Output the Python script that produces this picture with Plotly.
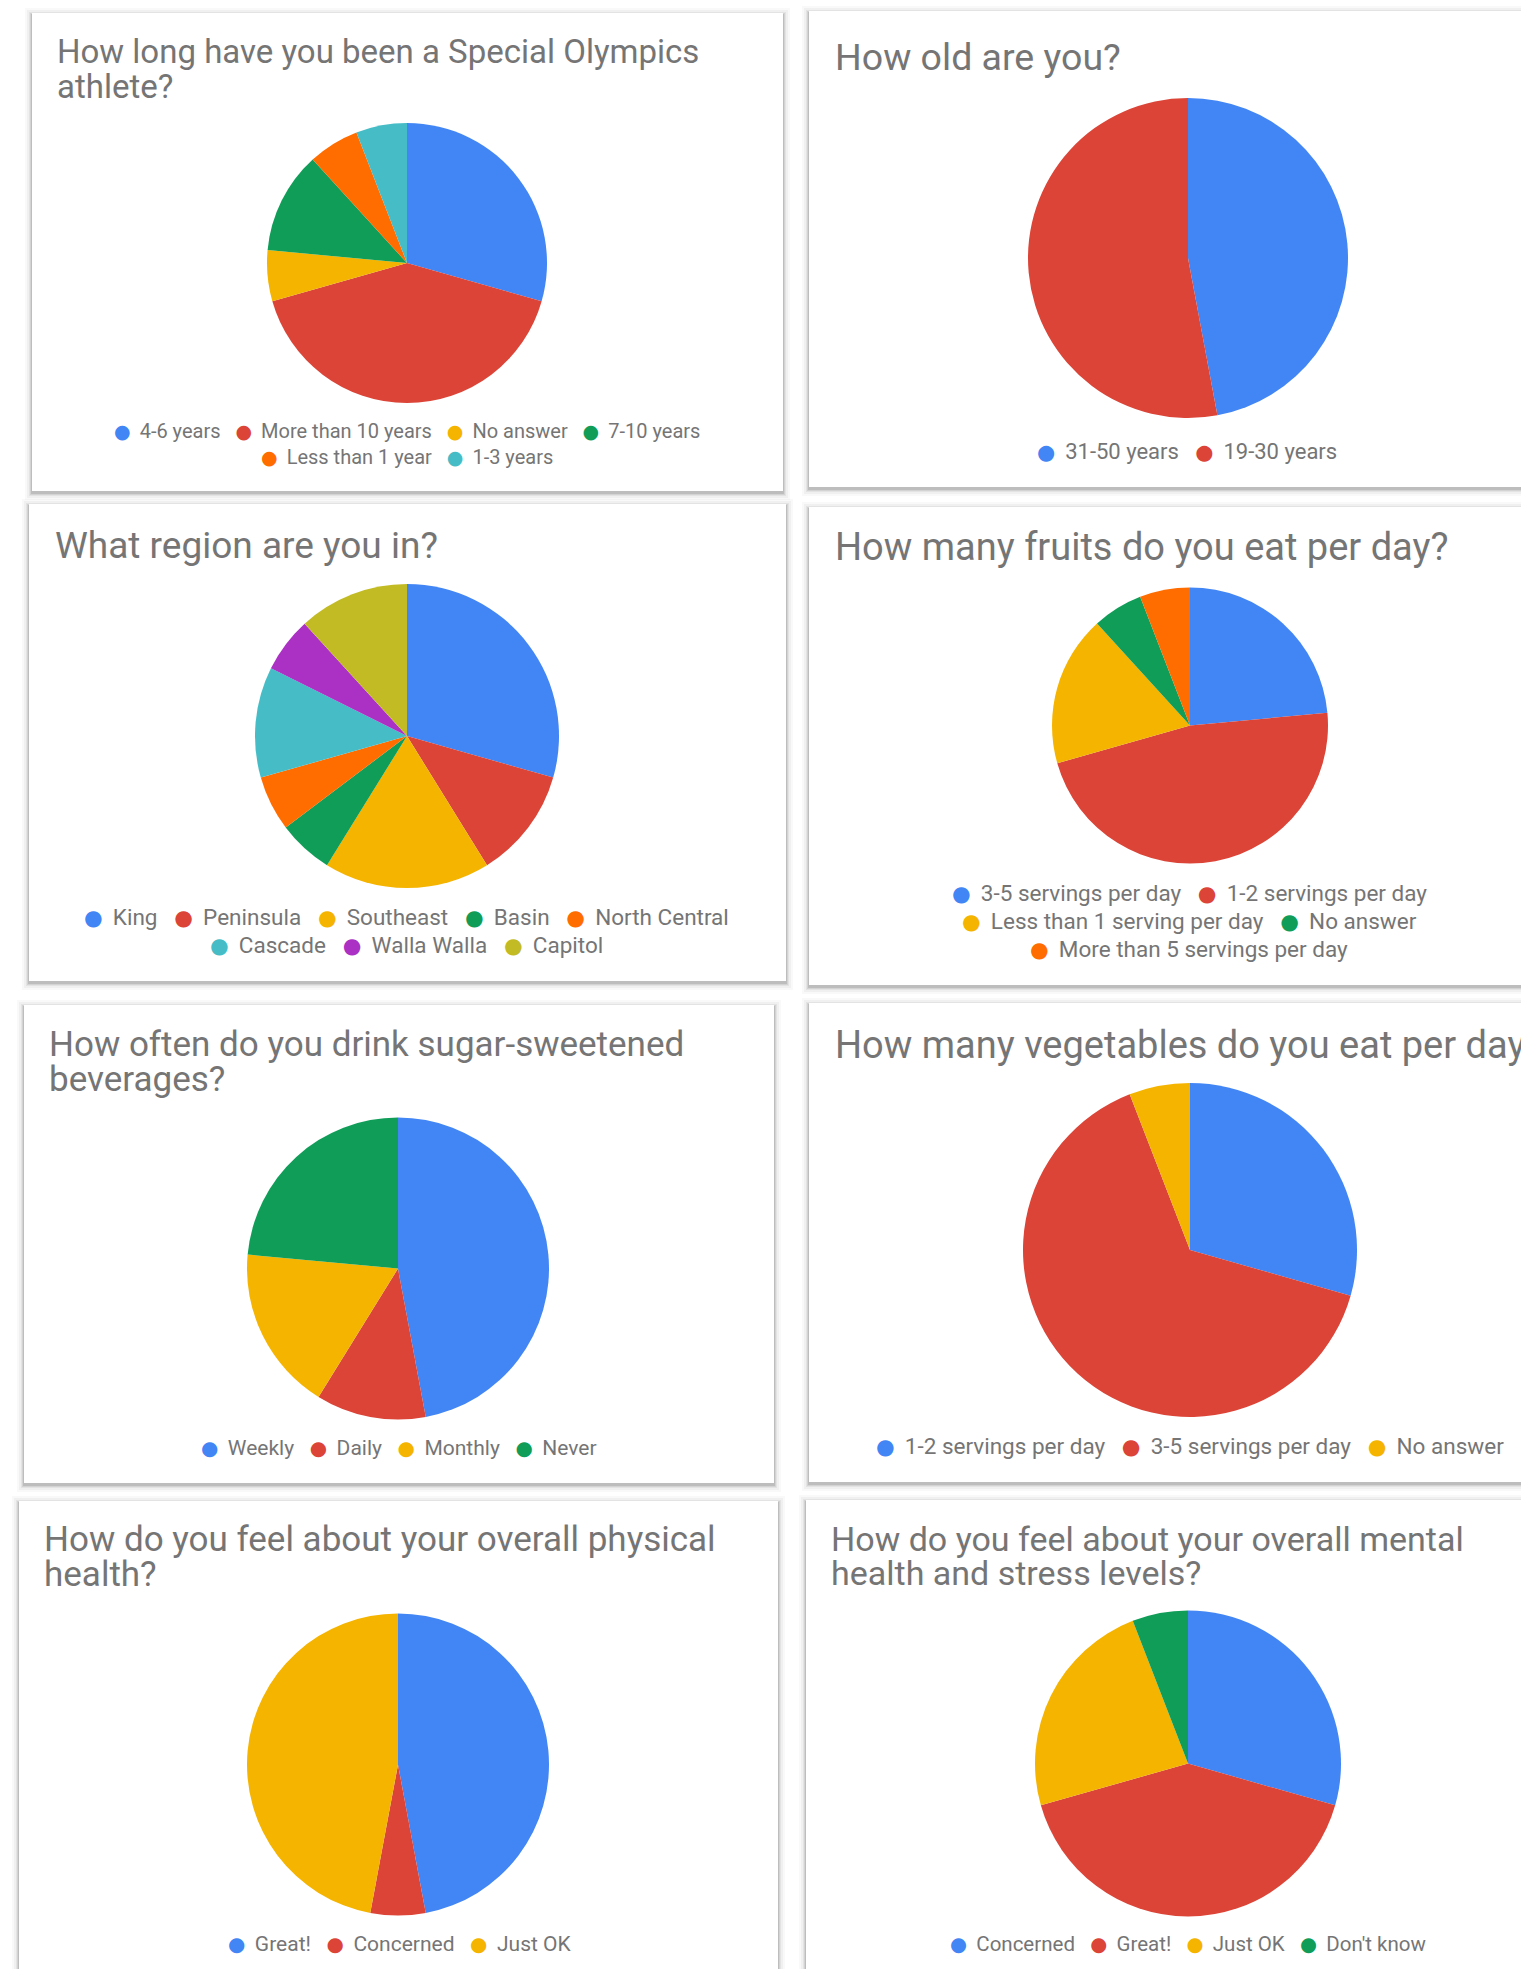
import plotly.graph_objects as go

# ---------------- data ----------------
BLUE, RED, YELLOW, GREEN = "#4285F4", "#DB4437", "#F4B400", "#0F9D58"
ORANGE, TEAL, PURPLE, OLIVE = "#FF6D00", "#46BDC6", "#AB30C4", "#C2BB23"

q1_title = ["How long have you been a Special Olympics", "athlete?"]
q1_labels = ["4-6 years", "More than 10 years", "No answer", "7-10 years", "Less than 1 year", "1-3 years"]
q1_values = [5, 7, 1, 2, 1, 1]
q1_colors = [BLUE, RED, YELLOW, GREEN, ORANGE, TEAL]

q2_title = ["How old are you?"]
q2_labels = ["31-50 years", "19-30 years"]
q2_values = [8, 9]
q2_colors = [BLUE, RED]

q3_title = ["What region are you in?"]
q3_labels = ["King", "Peninsula", "Southeast", "Basin", "North Central", "Cascade", "Walla Walla", "Capitol"]
q3_values = [5, 2, 3, 1, 1, 2, 1, 2]
q3_colors = [BLUE, RED, YELLOW, GREEN, ORANGE, TEAL, PURPLE, OLIVE]

q4_title = ["How many fruits do you eat per day?"]
q4_labels = ["3-5 servings per day", "1-2 servings per day", "Less than 1 serving per day", "No answer",
             "More than 5 servings per day"]
q4_values = [4, 8, 3, 1, 1]
q4_colors = [BLUE, RED, YELLOW, GREEN, ORANGE]

q5_title = ["How often do you drink sugar-sweetened", "beverages?"]
q5_labels = ["Weekly", "Daily", "Monthly", "Never"]
q5_values = [8, 2, 3, 4]
q5_colors = [BLUE, RED, YELLOW, GREEN]

q6_title = ["How many vegetables do you eat per day?"]
q6_labels = ["1-2 servings per day", "3-5 servings per day", "No answer"]
q6_values = [5, 11, 1]
q6_colors = [BLUE, RED, YELLOW]

q7_title = ["How do you feel about your overall physical", "health?"]
q7_labels = ["Great!", "Concerned", "Just OK"]
q7_values = [8, 1, 8]
q7_colors = [BLUE, RED, YELLOW]

q8_title = ["How do you feel about your overall mental", "health and stress levels?"]
q8_labels = ["Concerned", "Great!", "Just OK", "Don't know"]
q8_values = [5, 7, 4, 1]
q8_colors = [BLUE, RED, YELLOW, GREEN]

# ---------------- layout (pixels) ----------------
W, H = 1521, 1969
TITLE_COLOR = "#757575"
LEGEND_COLOR = "#757575"
FONT = "Roboto"

panels = [
    dict(title=q1_title, labels=q1_labels, values=q1_values, colors=q1_colors,
         card=(32, 13, 783, 491), tx=55, ty=[51.6, 86.6], tsize=33,
         pie=(407, 263, 140), rows=[4, 2], ly=[431, 457], lx=407, lsize=20),
    dict(title=q2_title, labels=q2_labels, values=q2_values, colors=q2_colors,
         card=(809, 11, 1580, 487), tx=833, ty=[57.4], tsize=37.5,
         pie=(1188, 258, 160), rows=[2], ly=[451], lx=1187, lsize=22),
    dict(title=q3_title, labels=q3_labels, values=q3_values, colors=q3_colors,
         card=(29, 504, 786, 981), tx=53, ty=[545.2], tsize=37,
         pie=(407, 736, 152), rows=[5, 3], ly=[917, 945], lx=406, lsize=22.5),
    dict(title=q4_title, labels=q4_labels, values=q4_values, colors=q4_colors,
         card=(809, 507, 1580, 985), tx=833, ty=[547.2], tsize=38,
         pie=(1190, 725.5, 138), rows=[2, 2, 1], ly=[893, 921, 949], lx=1189, lsize=22.5),
    dict(title=q5_title, labels=q5_labels, values=q5_values, colors=q5_colors,
         card=(24, 1005, 774, 1483), tx=47, ty=[1044.3, 1079.3], tsize=35,
         pie=(398, 1268.5, 151), rows=[4], ly=[1448], lx=399, lsize=21),
    dict(title=q6_title, labels=q6_labels, values=q6_values, colors=q6_colors,
         card=(809, 1003, 1580, 1482), tx=833, ty=[1044.8], tsize=38,
         pie=(1190, 1250, 167), rows=[3], ly=[1446], lx=1190, lsize=22.5),
    dict(title=q7_title, labels=q7_labels, values=q7_values, colors=q7_colors,
         card=(19, 1501, 778, 2040), tx=42, ty=[1539.3, 1574.9], tsize=35,
         pie=(398, 1764.5, 151), rows=[3], ly=[1944], lx=399, lsize=21),
    dict(title=q8_title, labels=q8_labels, values=q8_values, colors=q8_colors,
         card=(806, 1500, 1580, 2040), tx=829, ty=[1538.6, 1572.9], tsize=34,
         pie=(1188, 1763.5, 153), rows=[4], ly=[1944], lx=1188, lsize=20.5),
]


def px_x(x):
    return x / W


def px_y(y):
    return 1 - y / H


fig = go.Figure()
shapes = []
annotations = []

for p in panels:
    x0, y0, x1, y1 = p["card"]
    # soft drop shadow
    for s, a in [(7, 0.025), (5, 0.035), (3, 0.05), (2, 0.07), (1, 0.10)]:
        shapes.append(dict(type="rect", xref="paper", yref="paper", layer="below",
                           x0=px_x(x0 - s), x1=px_x(x1 + s),
                           y0=px_y(y1 + s + 2), y1=px_y(y0 - s + 2),
                           line=dict(width=0), fillcolor=f"rgba(0,0,0,{a})"))
    shapes.append(dict(type="rect", xref="paper", yref="paper", layer="below",
                       x0=px_x(x0), x1=px_x(x1), y0=px_y(y1), y1=px_y(y0),
                       line=dict(width=0), fillcolor="white"))

    cx, cy, r = p["pie"]
    fig.add_trace(go.Pie(
        labels=p["labels"], values=p["values"],
        marker=dict(colors=p["colors"], line=dict(width=0)),
        sort=False, direction="clockwise", rotation=0,
        textinfo="none", hoverinfo="label+value+percent", showlegend=False,
        domain=dict(x=[px_x(cx - r), px_x(cx + r)], y=[px_y(cy + r), px_y(cy - r)]),
    ))

    for line, ty in zip(p["title"], p["ty"]):
        annotations.append(dict(xref="paper", yref="paper", x=px_x(p["tx"]), y=px_y(ty),
                                xanchor="left", yanchor="middle", showarrow=False,
                                text=line, font=dict(family=FONT, size=p["tsize"], color=TITLE_COLOR)))

    # legend rows
    idx = 0
    dot = p["lsize"] * 0.95
    for n, ly in zip(p["rows"], p["ly"]):
        items = []
        for k in range(idx, idx + n):
            items.append(
                f'<span style="font-family:DejaVu Sans;font-size:{dot:.1f}px;color:{p["colors"][k]}">\u25CF</span>'
                f'\u00a0\u2009{p["labels"][k]}')
        idx += n
        text = "\u00a0\u00a0\u00a0".join(items)
        annotations.append(dict(xref="paper", yref="paper", x=px_x(p["lx"]), y=px_y(ly),
                                xanchor="center", yanchor="middle", showarrow=False,
                                text=text, font=dict(family=FONT, size=p["lsize"], color=LEGEND_COLOR)))

fig.update_layout(
    width=W, height=H, autosize=False,
    margin=dict(l=0, r=0, t=0, b=0),
    paper_bgcolor="white", plot_bgcolor="white",
    shapes=shapes, annotations=annotations,
    font=dict(family=FONT, color=LEGEND_COLOR),
)

fig.write_html("out.html", config={"displayModeBar": False},
               post_script="document.body.style.margin='0px';")
